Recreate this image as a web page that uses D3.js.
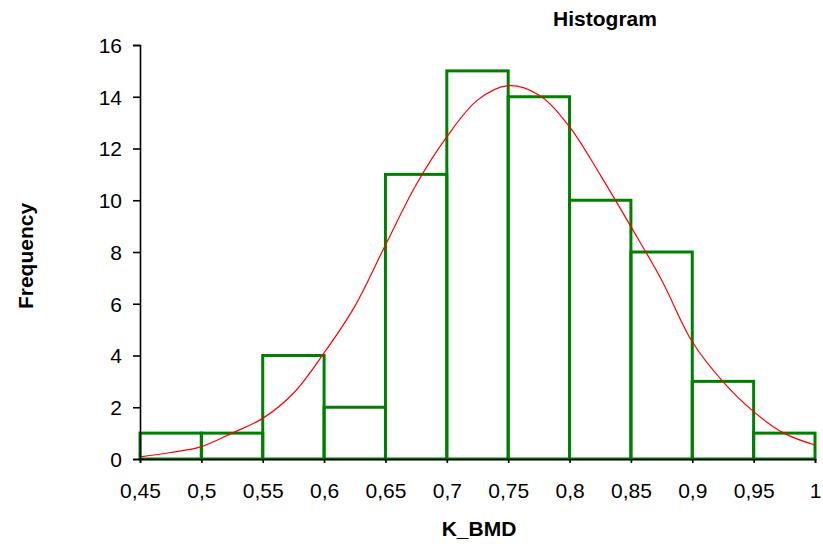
<!DOCTYPE html>
<html>
<head>
<meta charset="utf-8">
<script src="https://cdn.jsdelivr.net/npm/d3@7"></script>
<style>
  body { margin: 0; background: #fff; }
  text { font-family: "Liberation Sans", Arial, sans-serif; fill: #000; }
</style>
</head>
<body>
<div id="chart"></div>
<script>
// bins of K_BMD (lower edges) and counts
const binStarts = [0.45, 0.5, 0.55, 0.6, 0.65, 0.7, 0.75, 0.8, 0.85, 0.9, 0.95];
const binWidth = 0.05;
const counts = [1, 1, 4, 2, 11, 15, 14, 10, 8, 3, 1];

// red fitted curve
const curveX = [0.45, 0.475, 0.5, 0.525, 0.55, 0.575, 0.6, 0.625, 0.65, 0.675, 0.7, 0.725,
                0.75, 0.775, 0.8, 0.825, 0.85, 0.875, 0.9, 0.925, 0.95, 0.975, 1.0];
const curveY = [0.08, 0.25, 0.48, 1.0, 1.57, 2.54, 4.1, 5.9, 8.27, 10.6, 12.45, 13.87,
                14.43, 14.07, 12.84, 10.98, 8.98, 6.92, 4.53, 2.99, 1.83, 0.99, 0.54];

const xTicks = [0.45, 0.5, 0.55, 0.6, 0.65, 0.7, 0.75, 0.8, 0.85, 0.9, 0.95, 1];
const yTicks = [0, 2, 4, 6, 8, 10, 12, 14, 16];

const width = 823, height = 547;
const margin = { top: 45, right: 8, bottom: 88, left: 140 };

const svg = d3.select("#chart")
  .append("svg")
  .attr("width", width)
  .attr("height", height);

const x = d3.scaleLinear()
  .domain([0.45, 1])
  .range([margin.left, width - margin.right]);

const y = d3.scaleLinear()
  .domain([0, 16])
  .range([height - margin.bottom, margin.top]);

const fmt = d => String(+d.toFixed(2)).replace(".", ",");

// bars (outline only)
svg.append("g")
  .selectAll("rect")
  .data(binStarts)
  .join("rect")
  .attr("x", d => x(d))
  .attr("y", (d, i) => y(counts[i]))
  .attr("width", d => x(d + binWidth) - x(d))
  .attr("height", (d, i) => y(0) - y(counts[i]))
  .attr("fill", "none")
  .attr("stroke", "#008000")
  .attr("stroke-width", 3);

// fitted curve
svg.append("path")
  .datum(curveX.map((d, i) => [d, curveY[i]]))
  .attr("fill", "none")
  .attr("stroke", "#ff0000")
  .attr("stroke-width", 1.2)
  .attr("d", d3.line()
    .curve(d3.curveCatmullRom)
    .x(d => x(d[0]))
    .y(d => y(d[1])));

// axes
const xAxis = svg.append("g")
  .attr("transform", "translate(0," + y(0) + ")")
  .call(d3.axisBottom(x).tickValues(xTicks).tickFormat(fmt).tickSize(4).tickPadding(20));

const yAxis = svg.append("g")
  .attr("transform", "translate(" + x(0.45) + ",0)")
  .call(d3.axisLeft(y).tickValues(yTicks).tickSize(7).tickPadding(11));

[xAxis, yAxis].forEach(g => {
  g.select(".domain").attr("stroke", "#000").attr("stroke-width", 1.6);
  g.selectAll(".tick line").attr("stroke", "#000").attr("stroke-width", 1.6);
  g.selectAll(".tick text")
    .attr("font-size", 21)
    .attr("font-family", "Liberation Sans, Arial, sans-serif")
    .attr("fill", "#111");
});
yAxis.selectAll(".tick text").attr("dy", "0.35em");

// titles
svg.append("text")
  .attr("x", 605)
  .attr("y", 26)
  .attr("text-anchor", "middle")
  .attr("font-size", 21)
  .attr("font-weight", "bold")
  .text("Histogram");

svg.append("text")
  .attr("x", 479)
  .attr("y", 536)
  .attr("text-anchor", "middle")
  .attr("font-size", 21)
  .attr("font-weight", "bold")
  .text("K_BMD");

svg.append("text")
  .attr("transform", "translate(33,256) rotate(-90)")
  .attr("text-anchor", "middle")
  .attr("font-size", 21)
  .attr("font-weight", "bold")
  .text("Frequency");
</script>
</body>
</html>
